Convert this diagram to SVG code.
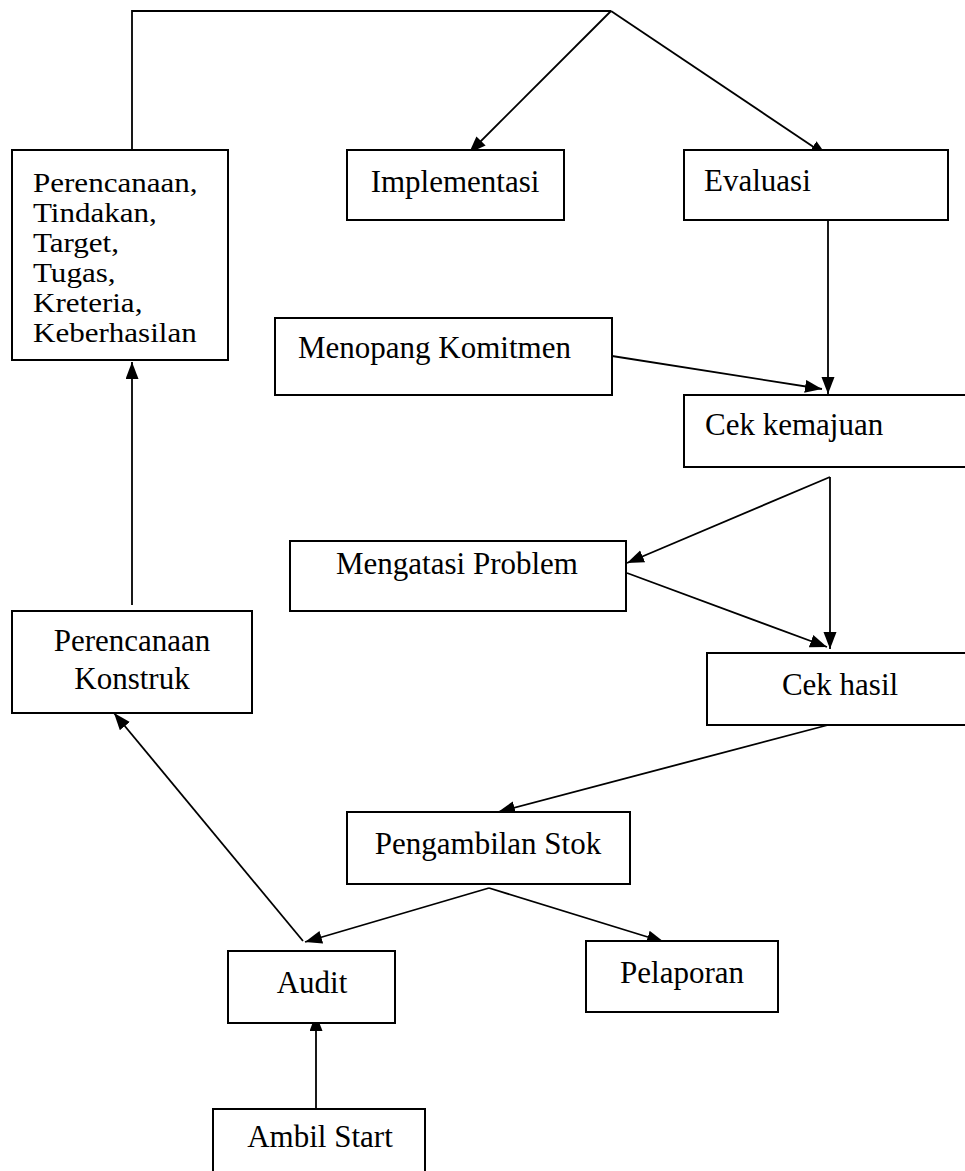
<svg xmlns="http://www.w3.org/2000/svg" width="965" height="1171" viewBox="0 0 965 1171">
<style>
.box{fill:#fff;stroke:#000;stroke-width:2}
.ln{fill:none;stroke:#000;stroke-width:1.8}
.t{font-family:"Liberation Serif","Times New Roman",serif;font-size:31px;fill:#000}
.s{font-size:27px}
.m{text-anchor:middle}
</style>
<defs>
<marker id="ah" markerUnits="userSpaceOnUse" markerWidth="18" markerHeight="14" refX="17" refY="6.5" orient="auto">
<path d="M0,0 L17,6.5 L0,13 Z" fill="#000"/>
</marker>
</defs>
<rect width="965" height="1171" fill="#fff"/>
<g id="connectors">
<polyline class="ln" points="132,150 132,11 611,11"/>
<line class="ln" x1="611" y1="11" x2="469" y2="153" marker-end="url(#ah)"/>
<line class="ln" x1="611" y1="11" x2="827" y2="156" marker-end="url(#ah)"/>
<line class="ln" x1="828" y1="220" x2="828" y2="394" marker-end="url(#ah)"/>
<line class="ln" x1="612" y1="356" x2="822" y2="389" marker-end="url(#ah)"/>
<line class="ln" x1="830" y1="477" x2="627" y2="563" marker-end="url(#ah)"/>
<line class="ln" x1="830" y1="477" x2="830" y2="649" marker-end="url(#ah)"/>
<line class="ln" x1="627" y1="573" x2="827" y2="647" marker-end="url(#ah)"/>
<line class="ln" x1="828" y1="725" x2="498" y2="812" marker-end="url(#ah)"/>
<line class="ln" x1="489" y1="888" x2="305" y2="942" marker-end="url(#ah)"/>
<line class="ln" x1="489" y1="888" x2="664" y2="942" marker-end="url(#ah)"/>
<line class="ln" x1="303" y1="941" x2="114" y2="713" marker-end="url(#ah)"/>
<line class="ln" x1="132" y1="605" x2="132" y2="362" marker-end="url(#ah)"/>
<line class="ln" x1="316" y1="1109" x2="316" y2="1014" marker-end="url(#ah)"/>
</g>
<g id="n-rencana">
<rect class="box" x="12" y="150" width="216" height="210"/>
<text class="t s" transform="translate(33,192) scale(1.15,1)">Perencanaan,</text>
<text class="t s" transform="translate(33,222) scale(1.15,1)">Tindakan,</text>
<text class="t s" transform="translate(33,252) scale(1.15,1)">Target,</text>
<text class="t s" transform="translate(33,282) scale(1.15,1)">Tugas,</text>
<text class="t s" transform="translate(33,312) scale(1.15,1)">Kreteria,</text>
<text class="t s" transform="translate(33,342) scale(1.15,1)">Keberhasilan</text>
</g>
<g id="n-implementasi">
<rect class="box" x="347" y="150" width="217" height="70"/>
<text class="t m" x="455" y="192">Implementasi</text>
</g>
<g id="n-evaluasi">
<rect class="box" x="684" y="150" width="264" height="70"/>
<text class="t" x="704" y="191">Evaluasi</text>
</g>
<g id="n-menopang">
<rect class="box" x="275" y="318" width="337" height="77"/>
<text class="t" x="298" y="358">Menopang Komitmen</text>
</g>
<g id="n-cekkemajuan">
<rect class="box" x="684" y="395" width="300" height="72"/>
<text class="t" x="705" y="435">Cek kemajuan</text>
</g>
<g id="n-mengatasi">
<rect class="box" x="290" y="541" width="336" height="70"/>
<text class="t m" x="457" y="574">Mengatasi Problem</text>
</g>
<g id="n-cekhasil">
<rect class="box" x="707" y="653" width="280" height="72"/>
<text class="t m" x="840" y="695">Cek hasil</text>
</g>
<g id="n-pengambilan">
<rect class="box" x="347" y="812" width="283" height="72"/>
<text class="t m" x="488" y="854">Pengambilan Stok</text>
</g>
<g id="n-audit">
<rect class="box" x="228" y="951" width="167" height="72"/>
<text class="t m" x="312" y="993">Audit</text>
</g>
<g id="n-pelaporan">
<rect class="box" x="586" y="941" width="192" height="71"/>
<text class="t m" x="682" y="983">Pelaporan</text>
</g>
<g id="n-konstruk">
<rect class="box" x="12" y="611" width="240" height="102"/>
<text class="t m" x="132" y="651">Perencanaan</text>
<text class="t m" x="132" y="689">Konstruk</text>
</g>
<g id="n-ambil">
<rect class="box" x="213" y="1109" width="212" height="80"/>
<text class="t m" x="320" y="1147">Ambil Start</text>
</g>
</svg>
